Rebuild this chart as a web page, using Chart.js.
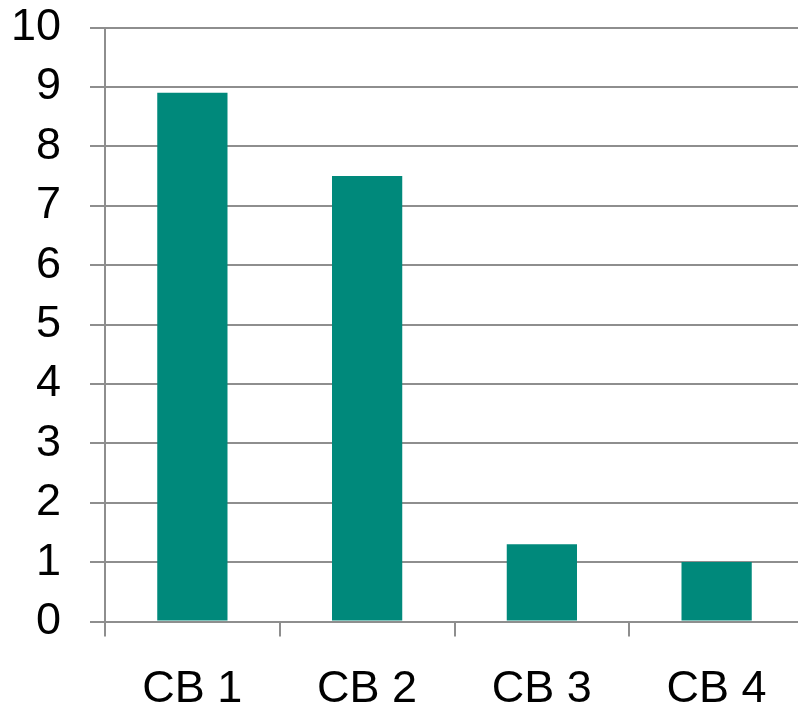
<!DOCTYPE html>
<html>
<head>
<meta charset="utf-8">
<script src="https://cdn.jsdelivr.net/npm/chart.js@4/dist/chart.umd.min.js"></script>
<style>
  html, body { margin: 0; padding: 0; background: #fff; overflow: hidden; }
  #wrap { width: 804px; height: 712px; }
</style>
</head>
<body>
<div id="wrap"><canvas id="c" width="804" height="712"></canvas></div>
<script>
// Categories and values of the bar series
const categories = ['CB 1', 'CB 2', 'CB 3', 'CB 4'];
const values = [8.9, 7.5, 1.3, 1.0];
const yTicks = [0, 1, 2, 3, 4, 5, 6, 7, 8, 9, 10];

const gridColor = '#8e8e8e';
const tickFont = { family: '"Liberation Sans", Arial, sans-serif', size: 45 };

new Chart(document.getElementById('c'), {
  type: 'bar',
  data: {
    labels: categories,
    datasets: [{
      data: values,
      backgroundColor: '#00897b',
      borderWidth: 0,
      barPercentage: 0.402,
      categoryPercentage: 1
    }]
  },
  options: {
    responsive: false,
    animation: false,
    events: [],
    layout: { padding: { top: 27.5, right: 0, left: 0, bottom: 0 } },
    plugins: { legend: { display: false }, tooltip: { enabled: false } },
    scales: {
      x: {
        grid: {
          offset: true,
          drawOnChartArea: false,
          drawTicks: true,
          tickLength: 15,
          color: gridColor,
          lineWidth: 2
        },
        border: { display: true, color: gridColor, width: 2 },
        ticks: { color: '#000', font: tickFont, padding: 26, maxRotation: 0 },
        afterFit(scale) {
          scale.height = 90.5;
          scale.paddingLeft = 0;
          scale.paddingRight = 0;
        }
      },
      y: {
        min: 0,
        max: 10,
        afterBuildTicks(scale) { scale.ticks = yTicks.map(v => ({ value: v })); },
        grid: {
          color: gridColor,
          lineWidth: 2,
          tickLength: 15,
          drawTicks: true
        },
        border: { display: true, color: gridColor, width: 2 },
        ticks: { color: '#000', font: tickFont, padding: 29 },
        afterFit(scale) {
          scale.width = 105;
          scale.paddingTop = 0;
          scale.paddingBottom = 0;
        }
      }
    }
  }
});
</script>
</body>
</html>
